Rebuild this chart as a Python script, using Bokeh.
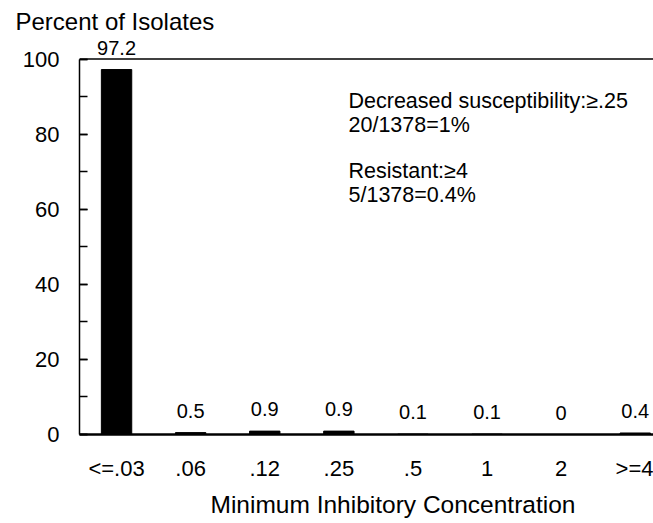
from bokeh.plotting import figure
from bokeh.models import (ColumnDataSource, Range1d, SingleIntervalTicker, FixedTicker,
                          LabelSet, Label, Span, Title)
from bokeh.core.properties import value
from bokeh.embed import file_html
from bokeh.resources import INLINE

categories = ["<=.03", ".06", ".12", ".25", ".5", "1", "2", ">=4"]
percents = [97.2, 0.5, 0.9, 0.9, 0.1, 0.1, 0, 0.4]
percent_labels = ["97.2", "0.5", "0.9", "0.9", "0.1", "0.1", "0", "0.4"]
y_title = "Percent of Isolates"
x_title = "Minimum Inhibitory Concentration"
note_lines = ["Decreased susceptibility:\u2265.25", "20/1378=1%", "Resistant:\u22654", "5/1378=0.4%"]
note_y = [88.7, 82.5, 70.1, 63.9]

FONT = "Liberation Sans"

xs = list(range(len(categories)))
src = ColumnDataSource(dict(x=xs, top=percents, lab=percent_labels))

p = figure(width=653, height=523, output_backend="svg", toolbar_location=None,
           x_range=Range1d(-0.5, 7.246), y_range=Range1d(0, 106.0),
           min_border_left=79, min_border_right=0, min_border_top=36, min_border_bottom=89)
p.outline_line_color = None
p.xgrid.grid_line_color = None
p.ygrid.grid_line_color = None
p.background_fill_color = "white"
p.border_fill_color = "white"

p.vbar(x="x", top="top", width=0.41, bottom=0, source=src,
       fill_color="black", line_color="black")

p.add_layout(LabelSet(x="x", y="top", text="lab", source=src, y_offset=15,
                      text_align="center", text_baseline="alphabetic",
                      text_font=value(FONT), text_font_size=value("20px"), text_color="black"))

# top border at 100
p.add_layout(Span(location=100, dimension="width", line_color="black", line_width=1.5))

# Y axis
ya = p.yaxis[0]
ya.bounds = (0, 100)
ya.ticker = SingleIntervalTicker(interval=20, num_minor_ticks=2)
ya.major_tick_in = 8
ya.major_tick_out = 0
ya.minor_tick_in = 8
ya.minor_tick_out = 0
ya.minor_tick_line_color = "black"
ya.major_tick_line_color = "black"
ya.axis_line_color = "black"
ya.axis_line_width = 1.5
ya.major_tick_line_width = 1.5
ya.minor_tick_line_width = 1.5
ya.major_label_standoff = 20
ya.major_label_text_font = FONT
ya.major_label_text_font_size = "22px"
ya.major_label_text_color = "black"

# X axis
xa = p.xaxis[0]
xa.ticker = FixedTicker(ticks=xs)
xa.major_label_overrides = {i: c for i, c in zip(xs, categories)}
xa.major_tick_line_color = None
xa.minor_tick_line_color = None
xa.axis_line_color = "black"
xa.axis_line_width = 2.5
xa.major_label_standoff = 15
xa.major_label_text_font = FONT
xa.major_label_text_font_size = "22px"
xa.major_label_text_color = "black"

# titles
p.title.text = y_title
p.title.align = "left"
p.title.offset = -64
p.title.standoff = 4
p.title.text_font = FONT
p.title.text_font_size = "24px"
p.title.text_font_style = "normal"
p.title.text_color = "black"

xt = Title(text=x_title, align="left", offset=131, standoff=11, text_font=FONT,
           text_font_size="24.5px", text_font_style="normal", text_color="black")
p.add_layout(xt, "below")

# annotation
for line, ly in zip(note_lines, note_y):
    p.add_layout(Label(x=3.13, y=ly, text=line, text_font=FONT, text_font_size="21.5px",
                       text_baseline="alphabetic", text_color="black"))

open("out.html", "w").write(file_html(p, INLINE))
